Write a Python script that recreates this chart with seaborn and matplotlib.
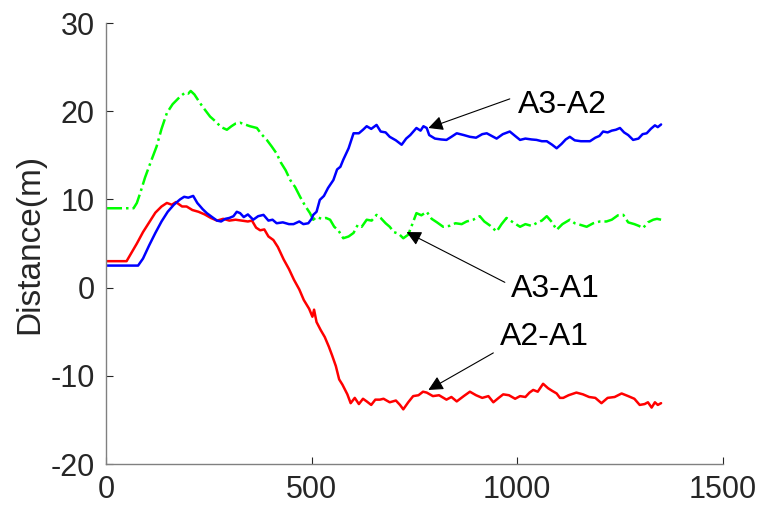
import numpy as np
import pandas as pd
import matplotlib
matplotlib.use("Agg")
import matplotlib.pyplot as plt
import seaborn as sns

# distance curves (x = sample index, y = metres)
x_a2a1 = [0, 50, 60, 75, 90, 105, 120, 135, 148, 160, 170, 185, 196, 210, 225, 240, 255, 270, 285, 300,
          315, 330, 345, 355, 365, 375, 385, 395, 407, 418, 432, 445, 457, 470, 481, 494, 502, 506, 512, 522,
          532, 542, 550, 559, 567, 575, 587, 595, 605, 615, 625, 634, 645, 655, 666, 675, 690, 705, 715, 723,
          735, 747, 760, 771, 780, 795, 810, 828, 840, 853, 870, 885, 900, 915, 930, 942, 955, 966, 980, 995,
          1007, 1020, 1030, 1039, 1050, 1063, 1075, 1085, 1096, 1104, 1112, 1125, 1144, 1160, 1175, 1190, 1205, 1220, 1237, 1254,
          1270, 1285, 1298, 1310, 1318, 1327, 1335, 1342, 1350]
y_a2a1 = [3.0, 3.0, 3.8, 5.0, 6.3, 7.4, 8.5, 9.2, 9.6, 9.4, 9.7, 9.2, 9.2, 8.8, 8.6, 8.3, 7.9, 7.6, 7.8, 7.6,
          7.7, 7.6, 7.5, 7.6, 6.8, 6.5, 6.6, 5.8, 5.4, 4.6, 3.2, 2.1, 0.9, -0.2, -1.4, -2.4, -3.3, -2.5, -3.9, -4.8,
          -5.6, -6.7, -7.7, -8.9, -10.4, -11.0, -12.1, -13.1, -12.5, -13.2, -12.6, -12.9, -13.3, -12.7, -12.7, -12.6, -13.0, -12.8, -13.3, -13.8,
          -13.0, -12.3, -12.2, -11.8, -11.9, -12.3, -12.2, -12.7, -12.4, -12.9, -12.3, -11.8, -12.2, -12.5, -12.3, -13.0, -12.5, -12.1, -12.2, -12.6,
          -12.3, -12.4, -11.9, -11.6, -11.8, -10.9, -11.4, -11.7, -12.0, -12.5, -12.5, -12.2, -11.9, -12.1, -12.4, -12.5, -13.1, -12.5, -12.4, -12.0,
          -12.3, -12.6, -13.3, -13.2, -13.0, -13.6, -13.0, -13.3, -13.1]

x_a3a2 = [0, 78, 90, 105, 120, 135, 150, 165, 180, 190, 200, 212, 222, 235, 245, 258, 270, 280, 290, 300,
          310, 318, 326, 335, 345, 358, 370, 383, 395, 405, 415, 430, 445, 456, 470, 480, 492, 500, 504, 512,
          520, 530, 540, 553, 562, 570, 577, 590, 602, 615, 625, 634, 645, 658, 668, 680, 690, 705, 719, 730,
          740, 755, 765, 772, 780, 786, 800, 815, 828, 840, 853, 870, 885, 900, 915, 926, 938, 950, 965, 982,
          995, 1007, 1020, 1035, 1047, 1060, 1072, 1085, 1096, 1108, 1118, 1128, 1140, 1155, 1165, 1177, 1190, 1200, 1209, 1220,
          1230, 1240, 1250, 1260, 1270, 1282, 1295, 1305, 1315, 1325, 1335, 1342, 1350]
y_a3a2 = [2.5, 2.5, 3.3, 4.8, 6.2, 7.5, 8.6, 9.4, 10.0, 10.3, 10.2, 10.4, 9.6, 8.9, 8.45, 8.0, 7.6, 7.5, 7.8, 7.9,
          8.1, 8.6, 8.45, 8.0, 8.3, 7.7, 8.1, 8.25, 7.6, 7.7, 7.3, 7.4, 7.2, 7.2, 7.5, 7.2, 7.3, 7.8, 8.25, 8.6,
          9.95, 10.4, 11.3, 12.2, 13.4, 13.7, 14.5, 15.8, 17.5, 17.5, 17.9, 18.3, 18.0, 18.45, 17.7, 17.6, 17.1, 16.7, 16.2, 16.9,
          17.3, 18.1, 17.8, 18.3, 18.1, 17.3, 16.9, 16.8, 16.75, 17.1, 17.5, 17.3, 17.1, 17.0, 17.4, 17.5, 17.2, 16.9, 17.4, 17.7,
          17.2, 16.75, 16.9, 16.8, 16.75, 16.6, 16.6, 16.2, 15.8, 16.3, 16.8, 17.1, 16.7, 16.6, 16.6, 16.6, 17.0, 17.2, 17.7, 17.6,
          17.8, 17.9, 18.1, 17.6, 17.3, 16.75, 16.9, 17.4, 17.5, 18.0, 18.4, 18.2, 18.5]

x_a3a1 = [0, 67, 75, 83, 95, 110, 123, 135, 148, 162, 180, 192, 200, 206, 215, 229, 240, 253, 265, 280,
          294, 305, 315, 326, 338, 350, 367, 378, 391, 403, 415, 425, 437, 448, 460, 472, 484, 496, 504, 512,
          525, 535, 545, 555, 565, 577, 590, 602, 612, 622, 634, 646, 658, 668, 680, 690, 700, 712, 723, 735,
          745, 755, 767, 780, 792, 805, 820, 835, 850, 865, 877, 893, 909, 920, 935, 950, 962, 974, 990, 1007,
          1020, 1035, 1050, 1060, 1072, 1085, 1096, 1110, 1128, 1140, 1155, 1169, 1185, 1201, 1217, 1230, 1245, 1258, 1270, 1285,
          1296, 1306, 1318, 1331, 1340, 1350]
y_a3a1 = [9.0, 9.0, 9.6, 10.7, 12.5, 14.4, 16.0, 18.0, 19.8, 20.8, 21.65, 22.1, 22.0, 22.3, 21.9, 20.9, 20.2, 19.4, 18.9, 18.2,
          17.9, 18.3, 18.6, 18.7, 18.5, 18.3, 18.1, 17.4, 16.75, 16.0, 15.2, 14.2, 13.3, 12.2, 11.4, 10.3, 9.3, 8.45, 7.7, 8.0,
          7.8, 7.9, 7.7, 6.9, 6.5, 5.6, 5.8, 6.2, 7.1, 6.9, 7.7, 7.6, 8.25, 7.9, 7.3, 6.9, 6.3, 6.1, 5.6, 6.0,
          7.2, 8.45, 8.2, 8.6, 7.8, 7.4, 6.9, 7.0, 7.3, 7.2, 7.5, 7.7, 8.1, 7.5, 7.0, 6.35, 7.2, 7.9, 7.4, 6.9,
          7.2, 7.0, 7.4, 7.6, 8.1, 7.4, 6.55, 7.2, 7.7, 7.3, 7.1, 6.9, 7.3, 7.5, 7.5, 7.7, 8.2, 8.25, 7.4, 7.2,
          7.0, 6.75, 7.4, 7.7, 7.8, 7.7]

y_ticks = [-20, -10, 0, 10, 20, 30]
x_ticks = [0, 500, 1000, 1500]


def crear_df(xs, ys, nombre):
    return pd.DataFrame({"x": xs, "dist": ys, "par": nombre})


sns.set_style("white")
plt.rcParams['font.family'] = ['Liberation Sans', 'DejaVu Sans']
plt.rcParams['axes.unicode_minus'] = False

fig = plt.figure(figsize=(7.6, 5.12), dpi=100)
ax = fig.add_axes([0.1395, 0.0937, 0.8115, 0.8613])

sns.lineplot(data=crear_df(x_a3a1, y_a3a1, "A3-A1"), x="x", y="dist", color="#00ff00",
             lw=1.8, linestyle="-.", sort=False, estimator=None, ax=ax)
sns.lineplot(data=crear_df(x_a2a1, y_a2a1, "A2-A1"), x="x", y="dist", color="#ff0000",
             lw=1.8, sort=False, estimator=None, ax=ax)
sns.lineplot(data=crear_df(x_a3a2, y_a3a2, "A3-A2"), x="x", y="dist", color="#0000ff",
             lw=1.8, sort=False, estimator=None, ax=ax)

ax.set_xlim(0, 1500)
ax.set_ylim(-20, 30)
ax.set_xticks(x_ticks)
ax.set_yticks(y_ticks)
ax.set_xlabel("")
ax.set_ylabel("Distance(m)", fontsize=24, color="#262626", labelpad=4)
ax.tick_params(bottom=True, left=True, direction="in", length=5, width=0.8, color="#262626",
               labelsize=22, labelcolor="#262626", pad=8)
ax.spines['right'].set_visible(False)
ax.spines['top'].set_visible(False)
for s in ['left', 'bottom']:
    ax.spines[s].set_color("#808080")
    ax.spines[s].set_linewidth(1.0)

flecha = dict(arrowstyle="-|>", color="black", lw=0.8, mutation_scale=22,
              shrinkA=0, shrinkB=0)
ax.annotate("", xy=(784, 18.1), xytext=(982, 21.4), arrowprops=flecha)
ax.annotate("", xy=(731, 6.3), xytext=(970, 0.6), arrowprops=flecha)
ax.annotate("", xy=(784, -11.6), xytext=(942, -7.4), arrowprops=flecha)
ax.text(1002, 19.8, "A3-A2", fontsize=23, color="black", va="baseline")
ax.text(986, -1.03, "A3-A1", fontsize=23, color="black", va="baseline")
ax.text(958, -6.47, "A2-A1", fontsize=23, color="black", va="baseline")

fig.savefig("out.png", dpi=100)
